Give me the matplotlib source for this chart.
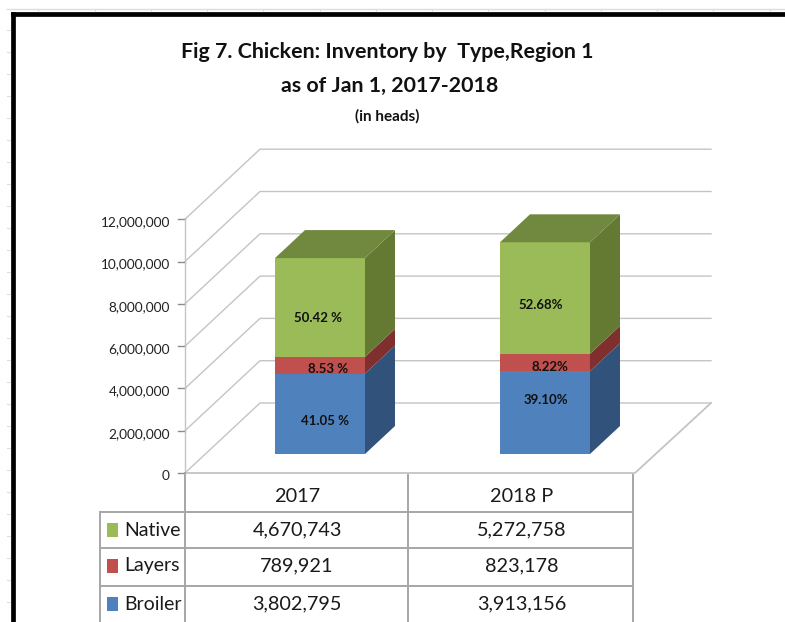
import matplotlib
matplotlib.use("Agg")
import matplotlib.pyplot as plt
from matplotlib.patches import Polygon

plt.rcParams['font.family'] = ['Lato', 'DejaVu Sans']

years = ['2017', '2018 P']
types = ['Broiler', 'Layers', 'Native']
broiler = [3802795, 3913156]
layers = [789921, 823178]
native = [4670743, 5272758]
pct_broiler = ['41.05 %', '39.10%']
pct_layers = ['8.53 %', '8.22%']
pct_native = ['50.42 %', '52.68%']
yticks = [0, 2000000, 4000000, 6000000, 8000000, 10000000, 12000000]

W, H = 785, 622
PX = 21.15 / 1e6   # pixels per head
Y0 = 473           # pixel row of value 0 on the front edge

front = ['#4F81BD', '#C0504D', '#9BBB59']
side = ['#31527A', '#7F302E', '#647A33']
top = '#71893F'

fig = plt.figure(figsize=(W / 100, H / 100), dpi=100)

# pixel overlay for frame, title and table
pg = fig.add_axes([0, 0, 1, 1], zorder=3)
pg.set_xlim(0, W)
pg.set_ylim(H, 0)
pg.axis('off')
pg.patch.set_alpha(0)

# chart axes: x in pixels, y in heads
ax = fig.add_axes([0, 0, 1, 1], zorder=1)
ax.set_xlim(0, W)
ax.set_ylim((Y0 - H) / PX, Y0 / PX)
ax.axis('off')


def dep(px):
    return px / PX


# walls
gc = '#C4C4C4'
for v in yticks:
    ax.plot([185, 260, 711], [v, v + dep(70), v + dep(70)], color=gc, lw=1.0, zorder=1)
    ax.plot([178, 185], [v, v], color='#8C8C8C', lw=1, zorder=1)
    ax.text(170, v - dep(3), f'{v:,}', ha='right', va='center', fontsize=9.8, color='#222222')
ax.plot([185, 635, 711], [0, 0, dep(70)], color=gc, lw=1.3, zorder=1)
ax.plot([185, 185], [0, 12000000], color=gc, lw=1.0, zorder=1)

# stacked 3D bars
bar_left = [275, 500]
bar_w = 90
lift = dep(19)
dx, dy = 30, dep(28)
series = [broiler, layers, native]
labels = [pct_broiler, pct_layers, pct_native]
label_dx = [[50, 46], [53, 50], [43, 41]]
label_dy = [[dep(-7), dep(13)], [dep(-4), dep(-4)], [dep(-11), dep(-7)]]
for i in range(2):
    base = lift
    x = bar_left[i]
    for j, vals in enumerate(series):
        h = vals[i]
        ax.bar(x, h, bar_w, bottom=base, align='edge', color=front[j], zorder=3)
        r = x + bar_w
        ax.add_patch(Polygon([(r, base), (r + dx, base + dy), (r + dx, base + h + dy), (r, base + h)],
                             color=side[j], lw=0, zorder=3))
        if j == 2:
            t = base + h
            ax.add_patch(Polygon([(x, t), (x + dx, t + dy), (r + dx, t + dy), (r, t)],
                                 color=top, lw=0, zorder=3))
        ax.text(x + label_dx[j][i], base + h / 2 + label_dy[j][i], labels[j][i], ha='center', va='center',
                fontsize=9.5, fontweight='bold', color='#111111', zorder=4)
        base += h

# title
pg.text(387, 52, 'Fig 7. Chicken: Inventory by  Type,Region 1', ha='center', va='center',
        fontsize=15.4, fontweight='bold', color='#111111')
pg.text(390, 86, 'as of Jan 1, 2017-2018', ha='center', va='center',
        fontsize=15.4, fontweight='bold', color='#111111')
pg.text(387, 116, '(in heads)', ha='center', va='center', fontsize=11, fontweight='bold', color='#111111')

# data table
tc = '#A6A6A6'
for x, y1, y2 in [(185, 473, H), (408, 475, H), (633, 475, H), (100, 512, H)]:
    pg.plot([x, x], [y1, y2], color=tc, lw=1.4)
rows = [(512, 2), (548, 1), (586, 0)]
for y, j in rows:
    pg.plot([100, 633], [y, y], color=tc, lw=1.4)
    cy = y + 18
    pg.fill_between([107, 118], cy - 7, cy + 7, color=front[j], lw=0)
    pg.text(124, cy, types[j], ha='left', va='center', fontsize=14, color='#1A1A1A')
    for i, cx in enumerate([297, 522]):
        pg.text(cx, cy, f'{series[j][i]:,}', ha='center', va='center', fontsize=14.3, color='#1A1A1A')
for cx, yr in zip([297, 522], years):
    pg.text(cx, 497, yr, ha='center', va='center', fontsize=14.3, color='#1A1A1A')

# screenshot frame
pg.plot([12.5, 12.5], [H, 13.5], color='black', lw=3.4, solid_capstyle='projecting')
pg.plot([12.5, W], [13.5, 13.5], color='black', lw=3.4, solid_capstyle='projecting')
pg.plot([7, W], [8.5, 8.5], color='#DDDDDD', lw=1)
for y in range(30, H, 22):
    pg.plot([7, 9.5], [y, y], color='#DDDDDD', lw=0.8)
for x in [38, 95, 151, 207, 263, 320, 376, 432, 488, 545, 601, 657, 713, 770]:
    pg.plot([x, x], [8.5, 10.5], color='#DDDDDD', lw=0.8)

fig.savefig('out.png', dpi=100)
